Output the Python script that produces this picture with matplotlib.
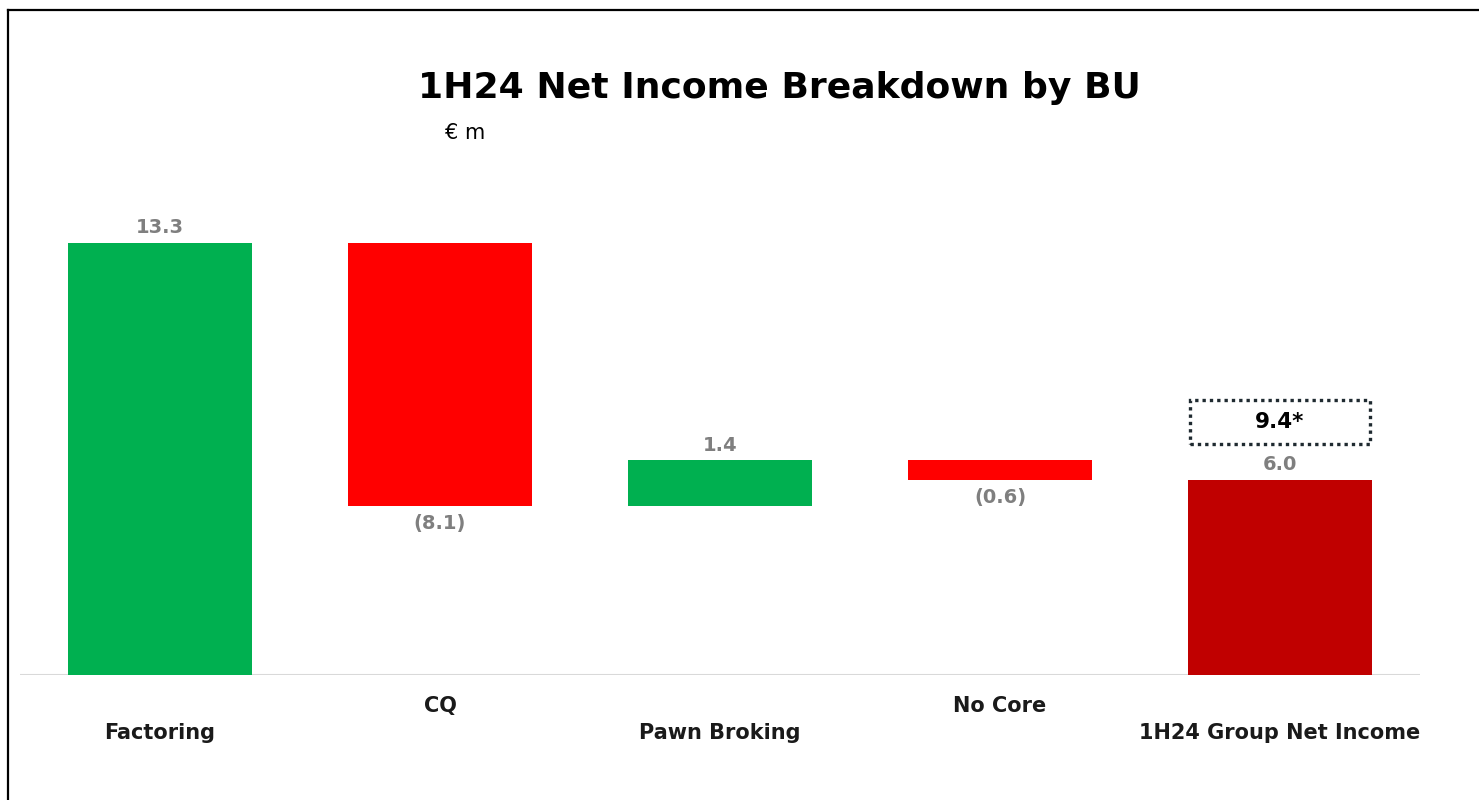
import matplotlib

matplotlib.use("Agg")
import matplotlib.pyplot as plt
from matplotlib.lines import Line2D
from matplotlib.patches import Rectangle
import numpy as np

# data
categories = ["Factoring", "CQ", "Pawn Broking", "No Core", "1H24 Group Net Income"]
deltas = [13.3, -8.1, 1.4, -0.6]
total = 6.0
adjusted_total_label = "9.4*"
bar_colors = ["#00B050", "#FF0000", "#00B050", "#FF0000", "#C00000"]

plt.rcParams["font.family"] = ["DejaVu Sans"]

W, H = 1479, 800
fig = plt.figure(figsize=(W / 100, H / 100), dpi=100)
ax = fig.add_axes([20 / W, 125 / H, 1400 / W, 475 / H])

# waterfall geometry
ends = np.cumsum(deltas)
starts = ends - np.array(deltas)
bottoms = list(np.minimum(starts, ends)) + [0.0]
heights = list(np.abs(deltas)) + [total]
x = np.arange(len(categories))

ax.bar(x, heights, bottom=bottoms, width=0.657, color=bar_colors, zorder=2)

ax.set_xlim(-0.5, 4.5)
ax.set_ylim(0, 14.615)
ax.axis("off")
ax.axhline(0, color="#d9d9d9", lw=1.5, zorder=1)


def fmt(v):
    return f"({abs(v):.1f})" if v < 0 else f"{v:.1f}"


# value labels
label_color = "#7f7f7f"
for i, d in enumerate(deltas):
    if d >= 0:
        ax.annotate(fmt(d), (i, ends[i]), xytext=(0, 15),
                    textcoords="offset pixels", ha="center", va="center",
                    fontsize=14, fontweight="bold", color=label_color)
    else:
        ax.annotate(fmt(d), (i, ends[i]), xytext=(0, -18),
                    textcoords="offset pixels", ha="center", va="center",
                    fontsize=14, fontweight="bold", color=label_color)
ax.annotate(fmt(total), (4, total), xytext=(0, 15), textcoords="offset pixels",
            ha="center", va="center", fontsize=14, fontweight="bold",
            color=label_color)

# dotted box with adjusted figure
box_y0 = total + 1.1
box_h = 1.35
ax.add_patch(Rectangle((4 - 0.322, box_y0), 0.644, box_h, fill=False,
                       edgecolor="#1f2a30", lw=2.4, linestyle=(0, (1, 1.2)),
                       zorder=3))
ax.text(4, box_y0 + box_h / 2, adjusted_total_label, ha="center", va="center",
        fontsize=15.5, fontweight="bold", color="black")

# category labels, staggered
for i, cat in enumerate(categories):
    off = -31 if i % 2 else -58
    ax.annotate(cat, (i, 0), xytext=(0, off), textcoords="offset pixels",
                ha="center", va="center", fontsize=15, fontweight="bold",
                color="#1a1a1a", annotation_clip=False)

# title and unit
fig.text(779 / W, 1 - 88 / H, "1H24 Net Income Breakdown by BU", ha="center",
         va="center", fontsize=26, fontweight="bold", color="black")
fig.text(445 / W, 1 - 133 / H, "€ m", ha="left", va="center", fontsize=15,
         color="black")

# frame (top and left edges)
fig.add_artist(Line2D([8 / W, 1], [1 - 10 / H, 1 - 10 / H], color="black", lw=1.6))
fig.add_artist(Line2D([8 / W, 8 / W], [0, 1 - 10 / H], color="black", lw=1.6))

fig.savefig("out.png", dpi=100)
